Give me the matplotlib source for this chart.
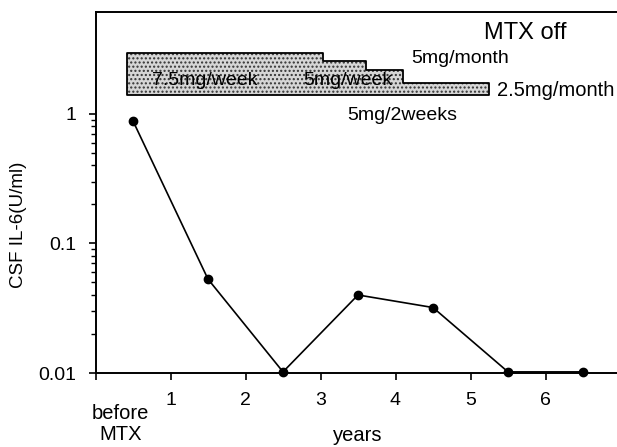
import matplotlib
matplotlib.use('Agg')
import matplotlib.pyplot as plt
import matplotlib.transforms as mtransforms
from matplotlib.ticker import FixedLocator, NullFormatter

plt.rcParams['font.family'] = ['Liberation Sans', 'DejaVu Sans']

# IL-6 in CSF, one value per period
period_x = [0.5, 1.5, 2.5, 3.5, 4.5, 5.5, 6.5]
il6 = [0.88, 0.053, 0.0102, 0.040, 0.032, 0.0102, 0.0102]
xtick_pos = [0, 1, 2, 3, 4, 5, 6]
xtick_labels = ['', '1', '2', '3', '4', '5', '6']

# MTX dose schedule bar (steps)
dose_x = [0.42, 3.03, 3.6, 4.1, 5.25]
dose_top = [2.96, 2.57, 2.19, 1.74, 1.74]
dose_bottom = 1.40

fig = plt.figure(figsize=(6.17, 4.47), dpi=100)
ax = fig.add_axes([95.5 / 617, 74 / 447, 525 / 617, 361 / 447])

ax.plot(period_x, il6, color='black', lw=1.2, marker='o', ms=6, zorder=3, clip_on=False)

ax.fill_between(dose_x, dose_bottom, dose_top, step='post', facecolor='#d6d6d6',
                edgecolor='#333333', hatch='....', linewidth=0)
ax.fill_between(dose_x, dose_bottom, dose_top, step='post', facecolor='none',
                edgecolor='black', linewidth=1.3)

ax.set_yscale('log')
ax.set_ylim(0.01, 6.1)
ax.set_xlim(0, 7)
ax.set_yticks([0.01, 0.1, 1])
ax.set_yticklabels(['0.01', '0.1', '1'])
minor = [m * 0.01 for m in range(2, 10)] + [m * 0.1 for m in range(2, 10)]
ax.yaxis.set_minor_locator(FixedLocator(minor))
ax.yaxis.set_minor_formatter(NullFormatter())
ax.set_xticks(xtick_pos)
ax.set_xticklabels(xtick_labels)

ax.spines['right'].set_visible(False)
for s in ['left', 'bottom', 'top']:
    ax.spines[s].set_linewidth(1.4)
ax.tick_params(axis='both', which='major', direction='out', length=5, width=1.2,
               labelsize=14)
ax.tick_params(axis='x', pad=9)
ax.tick_params(axis='y', pad=9)
ax.tick_params(axis='y', which='minor', direction='out', length=3.5, width=1)

ax.set_ylabel('CSF IL-6(U/ml)', fontsize=13.5)
ax.yaxis.set_label_coords(-0.13, 0.41)
ax.set_xlabel('years', fontsize=14.5, labelpad=12)

trans = mtransforms.blended_transform_factory(ax.transData, ax.transAxes)
ax.text(0.33, -0.085, 'before\nMTX', transform=trans, ha='center', va='top',
        fontsize=14.5, linespacing=1.15)

ax.text(5.73, 4.2, 'MTX off', fontsize=17, ha='center', va='center')
ax.text(4.86, 2.48, '5mg/month', fontsize=14, ha='center', va='baseline')
ax.text(5.36, 1.38, '2.5mg/month', fontsize=14.5, ha='left', va='baseline')
ax.text(3.35, 0.90, '5mg/2weeks', fontsize=14, ha='left', va='baseline')
ax.text(0.75, 1.68, '7.5mg/week', fontsize=14, ha='left', va='baseline')
ax.text(2.77, 1.68, '5mg/week', fontsize=14, ha='left', va='baseline')

fig.savefig('out.png', dpi=100)
